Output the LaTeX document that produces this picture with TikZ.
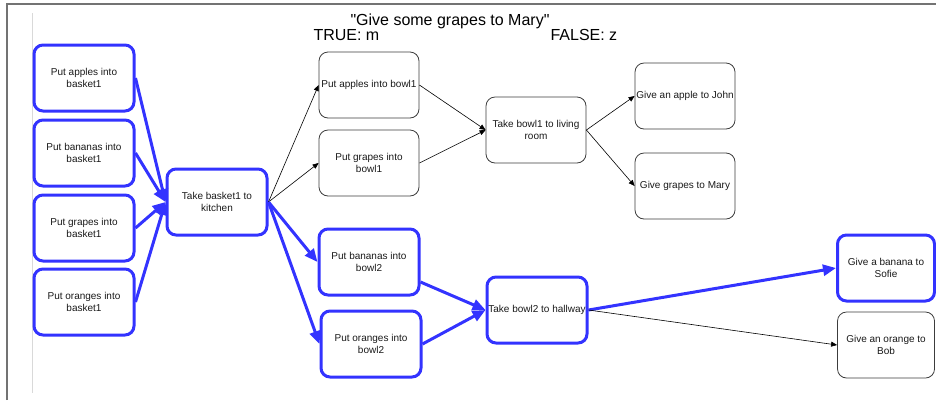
\documentclass[tikz,border=0pt]{standalone}
\usepackage{fontspec}
\setmainfont{Liberation Sans}
\newfontfamily\headfont{Liberation Sans}
\usetikzlibrary{arrows.meta}
\definecolor{pathblue}{RGB}{51,51,255}
\definecolor{boxgray}{RGB}{60,60,60}
\begin{document}
\begin{tikzpicture}[x=1pt,y=-1pt,
		box/.style={rectangle, rounded corners=9pt, minimum width=100pt, minimum height=66pt,
			inner sep=1pt, align=center, font=\fontsize{10}{12}\selectfont, text=black!90},
		plainbox/.style={box, draw=boxgray, line width=0.8pt},
		takenbox/.style={box, draw=pathblue, line width=3pt},
		link/.style={-{Triangle[length=6pt,width=5pt]}, line width=0.6pt, black},
		route/.style={-{Triangle[length=13pt,width=11pt]}, line width=3pt, pathblue},
		heading/.style={anchor=base, font=\headfont\fontsize{16}{18}\selectfont}]
			\useasboundingbox (0,0) rectangle (936,400);
			% frame
			\draw [black!55, line width=2pt] (7,400) -- (7,4) -- (936,4);
			\draw [black!15, line width=0.7pt] (32,13) -- (32,393);
			% heading
			\node[heading] (title) at (450,25) {"Give some grapes to Mary"};
			\node[heading, anchor=base west] (true) at (310,40) {TRUE: m};
			\node[heading, anchor=base west] (false) at (547,40) {FALSE: z};
			% baskets
			\node[takenbox] (apb1) at (84,78) {Put apples into\\basket1};
			\node[takenbox] (bab1) at (84,153) {Put bananas into\\basket1};
			\node[takenbox] (grb1) at (84,228) {Put grapes into\\basket1};
			\node[takenbox] (orb1) at (84,302) {Put oranges into\\basket1};
			\node[takenbox] (kitchen) at (217,202) {Take basket1 to\\kitchen};
			% bowls
			\node[plainbox] (apbowl1) at (369,85) {Put apples into bowl1};
			\node[plainbox] (grbowl1) at (369,163) {Put grapes into\\bowl1};
			\node[takenbox] (babowl2) at (369,262) {Put bananas into\\bowl2};
			\node[takenbox] (orbowl2) at (371,344) {Put oranges into\\bowl2};
			% rooms
			\node[plainbox] (living) at (536,130) {Take bowl1 to living\\room};
			\node[takenbox] (hallway) at (537,310) {Take bowl2 to hallway};
			% people
			\node[plainbox] (john) at (685,96) {Give an apple to John};
			\node[plainbox] (mary) at (685,186) {Give grapes to Mary};
			\node[takenbox, minimum width=97pt] (sofie) at (886,268) {Give a banana to\\Sofie};
			\node[plainbox, minimum width=97pt] (bob) at (886,345) {Give an orange to\\Bob};
			% arrows
			\draw [route] (apb1.east) -- (kitchen.west);
			\draw [route] (bab1.east) -- (kitchen.west);
			\draw [route] (grb1.east) -- (kitchen.west);
			\draw [route] (orb1.east) -- (kitchen.west);
			\draw [link] (kitchen.east) -- (apbowl1.west);
			\draw [link] (kitchen.east) -- (grbowl1.west);
			\draw [route] (kitchen.east) -- (babowl2.west);
			\draw [route] (kitchen.east) -- (orbowl2.west);
			\draw [link] (apbowl1.east) -- (living.west);
			\draw [link] (grbowl1.east) -- (living.west);
			\draw [route] ([yshift=-20pt]babowl2.east) -- (hallway.west);
			\draw [route] (orbowl2.east) -- (hallway.west);
			\draw [link] (living.east) -- (john.west);
			\draw [link] (living.east) -- (mary.west);
			\draw [route] (hallway.east) -- (sofie.west);
			\draw [link] (hallway.east) -- (bob.west);
		\end{tikzpicture}
\end{document}
